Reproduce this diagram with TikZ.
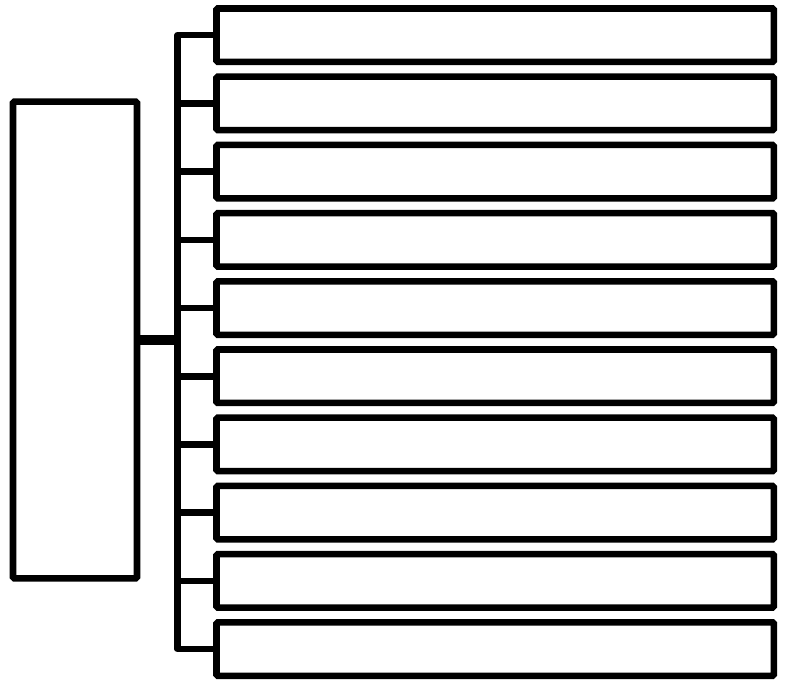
\documentclass[tikz,border=0pt]{standalone}
\usepackage{tikz}
\usetikzlibrary{positioning}

\begin{document}
\begin{tikzpicture}[x=0.75pt, y=-0.75pt,
  box/.style={draw=black, line width=4.9pt, rounded corners=1pt, outer sep=0pt, minimum width=418pt, minimum height=40.1pt},
  link/.style={draw=black, line width=4.9pt, line join=round}]
\useasboundingbox (0,0) rectangle (787,680);
\node[box, minimum width=93pt, minimum height=357.4pt] (src) at (75,340) {};
\node[box, anchor=north west] (b1) at (216.5,8.5) {};
\foreach \i [remember=\i as \j (initially 1)] in {2,...,10}
  \node[box, below=11.05pt of b\j] (b\i) {};
\coordinate (bus) at (177.5,340);
\draw[link] (b1.west) -- (b1.west -| bus) -- (b10.west -| bus) -- (b10.west);
\foreach \i in {2,...,9} \draw[link] (b\i.west -| bus) -- (b\i.west);
\draw[link, line width=7.2pt] (src.east) -- (bus);
\end{tikzpicture}
\end{document}
